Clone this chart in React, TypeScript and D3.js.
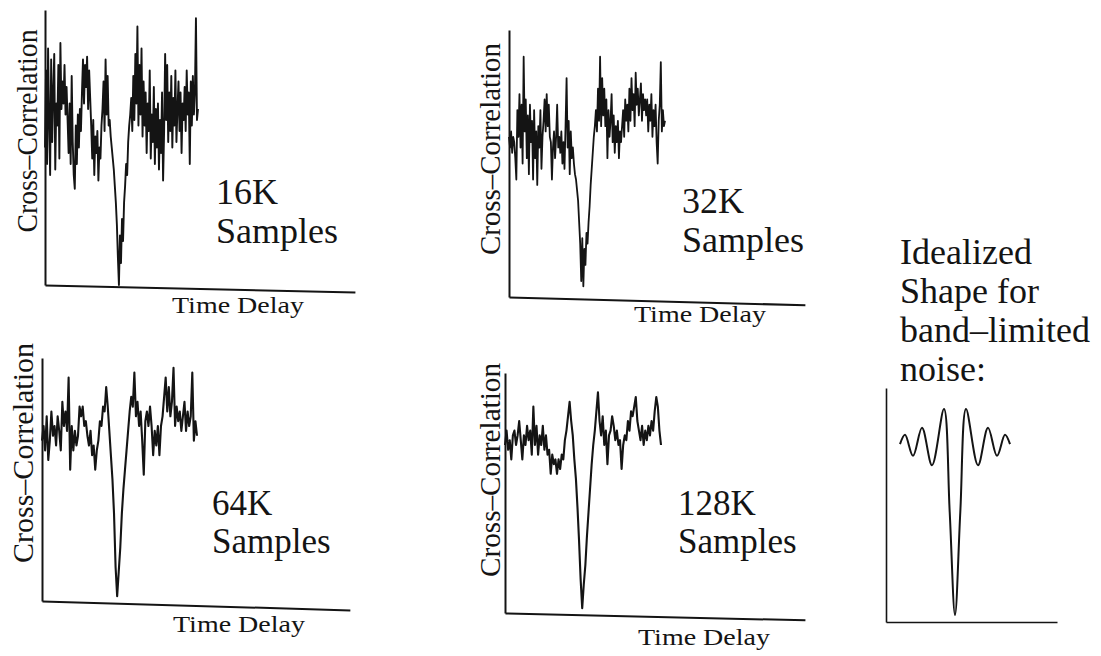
import React, { useEffect, useRef } from "react";
import * as d3 from "d3";

// cross-correlation traces (0 = time axis, 100 = top of y axis)
const corr16K = [
  50, 78, 44, 86, 60, 40, 82, 52, 70, 84, 42, 66, 58, 80, 46,
  88, 64, 74, 66, 80, 62, 72,
  60, 48, 66, 44, 76, 52, 40, 35, 58, 44, 62, 50, 64, 56,
  70, 82, 66, 80, 72, 83, 64, 78, 68,
  58, 46, 60, 40, 54, 48, 56, 38, 50, 46, 58,
  64, 74, 56, 82, 62, 76, 58, 60,
  54, 50, 46, 42, 36, 30,
  22, 10, 0, 18, 8, 24, 16,
  30, 36, 44, 40, 52, 58, 62, 68,
  56, 76, 60, 84, 66, 94, 58, 80, 62, 86, 54,
  74, 58, 70, 48, 66, 56, 78, 46, 62, 52, 72, 44, 64,
  50, 66, 42, 60, 48, 70, 38, 56, 84, 60, 80, 52, 70,
  56, 76, 50, 68, 58, 78, 52, 64, 74, 56, 70, 48, 66, 60,
  72, 56, 78, 62, 70, 44, 74, 58, 76, 62, 70, 97, 60, 64
];
const corr32K = [
  60, 56, 62, 54, 60, 58, 52,
  44, 70, 60, 76, 56, 72, 50, 90, 62, 74, 52, 68, 46,
  72, 58, 66, 44, 70, 52, 62, 42, 64, 56, 70, 48, 60,
  66, 74, 62, 76, 64, 72, 60, 58,
  44, 56, 62, 52, 60, 72, 56, 60, 54, 62, 50, 58,
  48, 64, 82, 56, 66, 46, 62, 52,
  56, 50, 46, 44, 40, 36,
  28, 20, 6, 22, 4, 18, 12, 24, 20,
  28, 34, 42, 48, 54, 60, 64,
  70, 62, 78, 66, 90, 64, 82, 68, 78,
  64, 74, 52, 70, 60, 66, 76, 58, 68, 54, 64, 58, 66, 52, 62, 58,
  64, 70, 60, 74, 66, 72, 62,
  78, 66, 82, 70, 76, 64, 84, 72, 78, 68, 74, 80, 66, 76, 70, 74,
  68, 74, 62, 72, 66, 76, 60, 70, 64, 72, 58,
  50, 66, 72, 88, 62, 70, 64, 66
];
const corr64K = [
  66, 72, 62, 76, 58, 66, 78, 68, 72, 64, 76, 70, 62, 82, 72, 78, 70, 92, 54, 72,
  62, 70, 64, 68, 80, 76, 80, 72, 74, 68, 64, 70, 60, 64, 54, 62, 66, 74, 72, 80,
  78, 88, 80, 70, 60, 50, 36, 14, 2, 12, 22, 36, 46, 54, 62, 70, 78, 84, 80, 94,
  76, 82, 72, 78, 66, 52, 74, 78, 72, 80, 72, 60, 70, 64, 72, 60, 72, 76, 84, 92,
  78, 88, 76, 82, 96, 72, 80, 74, 78, 70, 76, 82, 70, 78, 72, 76, 94, 66, 74, 68
];
const corr128K = [
  70, 76, 68, 72, 64, 74, 76, 70, 74, 80, 72, 64, 74, 70, 78, 72, 76, 66, 86, 70,
  78, 66, 74, 70, 78, 68, 74, 66, 68, 58, 66, 62, 64, 58, 64, 60, 66, 64, 72, 76,
  82, 88, 80, 74, 64, 56, 44, 30, 14, 2, 12, 20, 32, 42, 52, 62, 70, 76, 84, 92,
  80, 74, 82, 70, 76, 62, 74, 76, 82, 78, 72, 76, 70, 72, 60, 70, 74, 72, 80, 76,
  84, 82, 86, 90, 80, 76, 72, 78, 70, 76, 72, 78, 74, 80, 76, 84, 90, 86, 76, 70
];

// idealized shape for band-limited noise
const idealLag = [-5.5, -5, -4.2, -3.3, -2.3, -1.1, -0.53, 0, 0.53, 1.1, 2.3, 3.3, 4.2, 5, 5.5];
const idealShape = [76, 80, 71, 83, 67, 91, 47, 3, 47, 91, 67, 83, 71, 80, 76];

const sampleLabels = ["16K", "32K", "64K", "128K"];
const yLabel = "Cross–Correlation";
const xLabel = "Time Delay";
const idealText = ["Idealized", "Shape for", "band–limited", "noise:"];

const FONT = "Liberation Serif, Times New Roman, Times, serif";
const INK = "#141414";

function App() {
  const ref = useRef(null);

  useEffect(() => {
    drawChart();
  });

  const drawChart = () => {
    const svg = d3.select(ref.current);
    svg.selectAll("*").remove();

    const panels = [
      { data: corr16K, x0: 45, yTop: 10, yBot: 285, sigEnd: 198, axisEnd: 355, tilt: 1.3, sw: 1.9,
        lx: 216, ly: 204, lgap: 39, fs: 36, tdX: 172, tdY: 313, ccX: 37, ccY: 131, ccLen: 203 },
      { data: corr32K, x0: 509, yTop: 30, yBot: 297, sigEnd: 665, axisEnd: 805, tilt: 1.5, sw: 1.8,
        lx: 682, ly: 213, lgap: 39, fs: 36, tdX: 634, tdY: 322, ccX: 500, ccY: 149, ccLen: 212 },
      { data: corr64K, x0: 42, yTop: 358, yBot: 601, sigEnd: 197, axisEnd: 350, tilt: 1.65, sw: 2.1,
        lx: 212, ly: 515, lgap: 38, fs: 35, tdX: 173, tdY: 632, ccX: 33, ccY: 453, ccLen: 220 },
      { data: corr128K, x0: 505, yTop: 373, yBot: 613, sigEnd: 661, axisEnd: 805, tilt: 1.3, sw: 2.1,
        lx: 678, ly: 515, lgap: 38, fs: 35, tdX: 638, tdY: 645, ccX: 500, ccY: 470, ccLen: 214 }
    ];

    panels.forEach((p, k) => {
      const x = d3.scaleLinear().domain([0, p.data.length - 1]).range([p.x0, p.sigEnd]);
      const y = d3.scaleLinear().domain([0, 100]).range([p.yBot, p.yTop]);
      const xa = d3.scaleLinear().domain([0, 1]).range([0, p.axisEnd - p.x0]);
      const g = svg.append("g");

      g.append("g")
        .attr("transform", `translate(${p.x0},0)`)
        .call(d3.axisLeft(y).tickValues([]).tickSizeOuter(0))
        .select(".domain")
        .attr("stroke", INK)
        .attr("stroke-width", 2);

      g.append("g")
        .attr("transform", `translate(${p.x0},${p.yBot}) rotate(${p.tilt})`)
        .call(d3.axisBottom(xa).tickValues([]).tickSizeOuter(0))
        .select(".domain")
        .attr("stroke", INK)
        .attr("stroke-width", 2);

      const line = d3
        .line()
        .x((d, i) => x(i))
        .y(d => y(d));

      g.append("path")
        .datum(p.data)
        .attr("d", line)
        .attr("fill", "none")
        .attr("stroke", INK)
        .attr("stroke-width", p.sw)
        .attr("stroke-linejoin", "round");

      g.append("text")
        .attr("transform", `translate(${p.ccX},${p.ccY}) rotate(-90)`)
        .attr("text-anchor", "middle")
        .attr("font-family", FONT)
        .attr("font-size", 29)
        .attr("textLength", p.ccLen)
        .attr("lengthAdjust", "spacingAndGlyphs")
        .attr("fill", INK)
        .text(yLabel);

      g.append("text")
        .attr("x", p.tdX)
        .attr("y", p.tdY)
        .attr("font-family", FONT)
        .attr("font-size", 24)
        .attr("textLength", 132)
        .attr("lengthAdjust", "spacingAndGlyphs")
        .attr("fill", INK)
        .text(xLabel);

      g.append("text")
        .attr("x", p.lx)
        .attr("y", p.ly)
        .attr("font-family", FONT)
        .attr("font-size", p.fs)
        .attr("fill", INK)
        .text(sampleLabels[k]);

      g.append("text")
        .attr("x", p.lx)
        .attr("y", p.ly + p.lgap)
        .attr("font-family", FONT)
        .attr("font-size", p.fs)
        .attr("fill", INK)
        .text("Samples");
    });

    // idealized panel
    const ix = d3.scaleLinear().domain([-5.5, 5.5]).range([900, 1010]);
    const iy = d3.scaleLinear().domain([0, 100]).range([622, 388]);
    const ia = d3.scaleLinear().domain([0, 1]).range([0, 1057 - 886]);
    const gi = svg.append("g");

    gi.append("g")
      .attr("transform", "translate(886,0)")
      .call(d3.axisLeft(iy).tickValues([]).tickSizeOuter(0))
      .select(".domain")
      .attr("stroke", INK)
      .attr("stroke-width", 1.6);

    gi.append("g")
      .attr("transform", "translate(886,622)")
      .call(d3.axisBottom(ia).tickValues([]).tickSizeOuter(0))
      .select(".domain")
      .attr("stroke", INK)
      .attr("stroke-width", 1.6);

    const idealLine = d3
      .line()
      .x((d, i) => ix(idealLag[i]))
      .y(d => iy(d))
      .curve(d3.curveCatmullRom.alpha(0.5));

    gi.append("path")
      .datum(idealShape)
      .attr("d", idealLine)
      .attr("fill", "none")
      .attr("stroke", INK)
      .attr("stroke-width", 2);

    idealText.forEach((t, i) => {
      gi.append("text")
        .attr("x", 900)
        .attr("y", 264 + i * 39)
        .attr("font-family", FONT)
        .attr("font-size", 36)
        .attr("fill", INK)
        .text(t);
    });
  };

  return (
    <div id="chart" style={{ position: "absolute", left: 0, top: 0 }}>
      <svg ref={ref} width={1101} height={656} style={{ background: "#fff", display: "block" }} />
    </div>
  );
}

export default App;
